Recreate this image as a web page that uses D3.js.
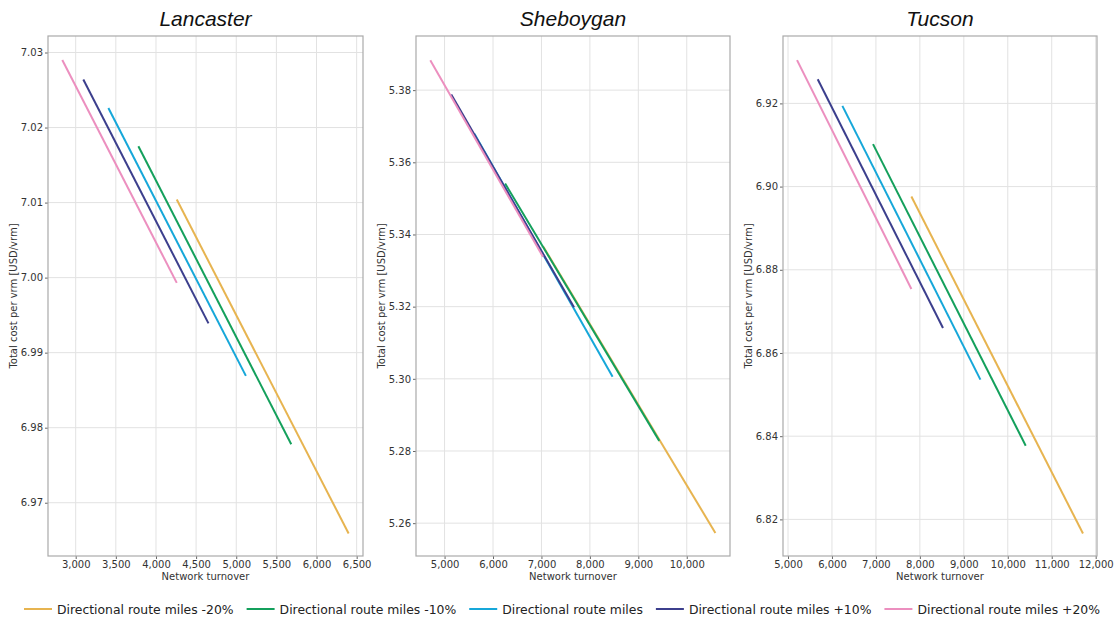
<!DOCTYPE html>
<html lang="en">
<head>
  <meta charset="UTF-8">
  <title>Network turnover vs total cost per vrm</title>
  <script src="https://d3js.org/d3.v7.min.js"></script>
  <style>
    body { margin: 0; padding: 0; background: #fff; }
    svg { display: block; font-family: "DejaVu Sans", sans-serif; }
    .grid line { stroke: #e2e2e2; stroke-width: 1; }
    .axis text { font-size: 10px; fill: #333; }
    .axis line { stroke: #666; }
    .frame { fill: none; stroke: #aaa; stroke-width: 1.2; }
    .title { font-family: "Liberation Sans", sans-serif; font-style: italic; font-size: 21px; fill: #111; }
    .label { font-size: 10px; fill: #333; }
    .legend text { font-size: 12.4px; fill: #222; }
  </style>
</head>
<body>
<svg id="chart" width="1117" height="621"></svg>

<script>
  // series, in legend order
  const seriesNames = [
    "Directional route miles -20%",
    "Directional route miles -10%",
    "Directional route miles",
    "Directional route miles +10%",
    "Directional route miles +20%"
  ];
  const seriesColors = ["#e7b450", "#14a05c", "#16a7d9", "#3c3f8d", "#ec8fbf"];

  const cities = ["Lancaster", "Sheboygan", "Tucson"];

  // [start, end] of each series line
  const lancasterTurnover = [[4259, 6400], [3781, 5685], [3407, 5120], [3095, 4654], [2833, 4259]];
  const lancasterCost = [[7.0104, 6.9659], [7.0175, 6.9778], [7.0226, 6.9869], [7.0264, 6.9939], [7.0290, 6.9993]];

  const sheboyganTurnover = [[7040, 10591], [6250, 9433], [5612, 8469], [5138, 7672], [4705, 7033]];
  const sheboyganCost = [[5.3366, 5.2573], [5.3541, 5.2828], [5.3680, 5.3006], [5.3788, 5.3198], [5.3883, 5.3338]];

  const tucsonTurnover = [[7807, 11711], [6934, 10408], [6237, 9377], [5676, 8526], [5205, 7807]];
  const tucsonCost = [[6.8976, 6.8166], [6.9102, 6.8377], [6.9194, 6.8536], [6.9258, 6.8660], [6.9304, 6.8754]];

  // axis ranges and ticks
  const lancasterXDomain = [2655, 6579];
  const lancasterYDomain = [6.9629, 7.0322];
  const lancasterXTicks = [3000, 3500, 4000, 4500, 5000, 5500, 6000, 6500];
  const lancasterYTicks = [6.97, 6.98, 6.99, 7.00, 7.01, 7.02, 7.03];

  const sheboyganXDomain = [4410, 10893];
  const sheboyganYDomain = [5.2509, 5.3950];
  const sheboyganXTicks = [5000, 6000, 7000, 8000, 9000, 10000];
  const sheboyganYTicks = [5.26, 5.28, 5.30, 5.32, 5.34, 5.36, 5.38];

  const tucsonXDomain = [4886, 12030];
  const tucsonYDomain = [6.8112, 6.9362];
  const tucsonXTicks = [5000, 6000, 7000, 8000, 9000, 10000, 11000, 12000];
  const tucsonYTicks = [6.82, 6.84, 6.86, 6.88, 6.90, 6.92];

  const panels = [
    { name: cities[0], xs: lancasterTurnover, ys: lancasterCost, xd: lancasterXDomain, yd: lancasterYDomain, xt: lancasterXTicks, yt: lancasterYTicks, left: 48, right: 363 },
    { name: cities[1], xs: sheboyganTurnover, ys: sheboyganCost, xd: sheboyganXDomain, yd: sheboyganYDomain, xt: sheboyganXTicks, yt: sheboyganYTicks, left: 416, right: 730 },
    { name: cities[2], xs: tucsonTurnover, ys: tucsonCost, xd: tucsonXDomain, yd: tucsonYDomain, xt: tucsonXTicks, yt: tucsonYTicks, left: 783, right: 1097 }
  ];

  const plotTop = 36, plotBottom = 556;
  const svg = d3.select("#chart");
  const fmtX = d3.format(",");
  const fmtY = d3.format(".2f");

  panels.forEach(p => {
    const x = d3.scaleLinear().domain(p.xd).range([p.left, p.right]);
    const y = d3.scaleLinear().domain(p.yd).range([plotBottom, plotTop]);
    const g = svg.append("g");

    // gridlines
    g.append("g").attr("class", "grid")
      .selectAll("line").data(p.xt).join("line")
        .attr("x1", d => x(d)).attr("x2", d => x(d))
        .attr("y1", plotTop).attr("y2", plotBottom);
    g.append("g").attr("class", "grid")
      .selectAll("line").data(p.yt).join("line")
        .attr("x1", p.left).attr("x2", p.right)
        .attr("y1", d => y(d)).attr("y2", d => y(d));

    // axes
    const xAxis = g.append("g").attr("class", "axis")
      .attr("transform", `translate(0,${plotBottom})`)
      .call(d3.axisBottom(x).tickValues(p.xt).tickFormat(fmtX).tickSize(3).tickPadding(2));
    const yAxis = g.append("g").attr("class", "axis")
      .attr("transform", `translate(${p.left},0)`)
      .call(d3.axisLeft(y).tickValues(p.yt).tickFormat(fmtY).tickSize(3).tickPadding(2));
    xAxis.select(".domain").remove();
    yAxis.select(".domain").remove();
    g.selectAll(".axis").attr("font-size", null).attr("font-family", null);

    g.append("rect").attr("class", "frame")
      .attr("x", p.left).attr("y", plotTop)
      .attr("width", p.right - p.left).attr("height", plotBottom - plotTop);

    // series lines
    const line = d3.line().x(d => x(d[0])).y(d => y(d[1]));
    seriesNames.forEach((s, i) => {
      const pts = p.xs[i].map((v, k) => [v, p.ys[i][k]]);
      g.append("path")
        .attr("d", line(pts))
        .attr("fill", "none")
        .attr("stroke", seriesColors[i])
        .attr("stroke-width", 2);
    });

    // titles and labels
    g.append("text").attr("class", "title")
      .attr("x", (p.left + p.right) / 2).attr("y", 26)
      .attr("text-anchor", "middle").text(p.name);
    g.append("text").attr("class", "label")
      .attr("x", (p.left + p.right) / 2).attr("y", 580)
      .attr("text-anchor", "middle").text("Network turnover");
    g.append("text").attr("class", "label")
      .attr("transform", `translate(${p.left - 31},${(plotTop + plotBottom) / 2}) rotate(-90)`)
      .attr("text-anchor", "middle").text("Total cost per vrm [USD/vrm]");
  });

  // legend
  const legend = svg.append("g").attr("class", "legend");
  let lx = 24;
  seriesNames.forEach((s, i) => {
    legend.append("line")
      .attr("x1", lx).attr("x2", lx + 28)
      .attr("y1", 609).attr("y2", 609)
      .attr("stroke", seriesColors[i]).attr("stroke-width", 2);
    const t = legend.append("text")
      .attr("x", lx + 33).attr("y", 613.5)
      .text(s);
    lx += 33 + t.node().getComputedTextLength() + 13;
  });
</script>
</body>
</html>
